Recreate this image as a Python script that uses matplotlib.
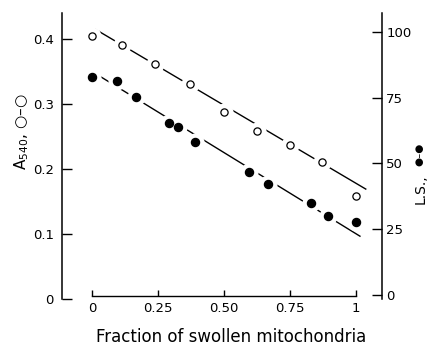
import matplotlib
matplotlib.use("Agg")
import matplotlib.pyplot as plt
import numpy as np

# Open circles: absorbance A540 (left axis)
frac_open = [0.0, 0.115, 0.24, 0.37, 0.50, 0.625, 0.75, 0.87, 1.0]
a540 = [0.405, 0.391, 0.362, 0.330, 0.288, 0.259, 0.237, 0.210, 0.158]
# Filled circles: light scattering L.S. (right axis)
frac_filled = [0.0, 0.095, 0.165, 0.292, 0.326, 0.392, 0.595, 0.666, 0.83, 0.895, 1.0]
ls_vals = [82.8, 81.5, 75.4, 65.5, 63.8, 58.3, 46.9, 42.2, 35.1, 30.2, 27.6]
# Fitted straight lines (intercept, slope, x range)
fit_open = (0.418, -0.240)
fit_open_x = [0.011, 1.037]
fit_filled = (85.0, -61.7)
fit_filled_x = [0.011, 1.015]

xticks = [0, 0.25, 0.50, 0.75, 1]
xticklabels = ["0", "0.25", "0.50", "0.75", "1"]
yticks_left = [0, 0.1, 0.2, 0.3, 0.4]
yticklabels_left = ["0", "0.1", "0.2", "0.3", "0.4"]
yticks_right = [0, 25, 50, 75, 100]

W, H = 431, 347
fig = plt.figure(figsize=(W / 100, H / 100), dpi=100)
ax = fig.add_axes([62 / W, (H - 299) / H, (382 - 62) / W, (299 - 13) / H])
ax.set_xlim(-0.1136, 1.0985)
ax.set_ylim(0, 0.44)
ax2 = ax.twinx()
ax2.set_ylim(-1.5, 107.2)

lw = 1.0
halo = 12
# open series
xo = np.array(fit_open_x)
ax.plot(xo, fit_open[0] + fit_open[1] * xo, color="black", lw=lw, zorder=1)
ax.plot(frac_open, a540, linestyle="none", marker="o", ms=halo, mfc="white",
        mec="white", zorder=2)
ax.plot(frac_open, a540, linestyle="none", marker="o", ms=5.2, mfc="white",
        mec="black", mew=0.9, zorder=3)

# filled series
xf = np.array(fit_filled_x)
ax2.plot(xf, fit_filled[0] + fit_filled[1] * xf, color="black", lw=lw, zorder=1)
ax2.plot(frac_filled, ls_vals, linestyle="none", marker="o", ms=halo, mfc="white",
         mec="white", zorder=2)
ax2.plot(frac_filled, ls_vals, linestyle="none", marker="o", ms=5.8, mfc="black",
         mec="black", zorder=3)

# spines
for a in (ax, ax2):
    a.spines["top"].set_visible(False)
ax.spines["right"].set_visible(False)
ax2.spines["left"].set_visible(False)
ax2.spines["bottom"].set_visible(False)
ax.spines["left"].set_linewidth(1.1)
ax2.spines["right"].set_linewidth(1.1)
ax.spines["bottom"].set_linewidth(1.0)
ax.spines["bottom"].set_bounds(0, 1)
ax.spines["bottom"].set_position(("outward", -2))

ax.set_xticks(xticks)
ax.set_xticklabels(xticklabels)
ax.set_yticks(yticks_left)
ax.set_yticklabels(yticklabels_left)
ax2.set_yticks(yticks_right)
ax2.set_yticklabels([str(v) for v in yticks_right])

ax.tick_params(axis="x", direction="in", length=4, width=1.0, labelsize=9.5, pad=4)
ax.tick_params(axis="y", direction="in", length=7, width=1.0, labelsize=9.5, pad=6)
ax2.tick_params(axis="y", direction="in", length=7, width=1.0, labelsize=9.5, pad=3)

fig.text(231 / W, 1 - 337 / H, "Fraction of swollen mitochondria",
         ha="center", va="center", fontsize=12)
fig.text(22 / W, 1 - 132 / H, "A$_{540}$, \u25cb\u2013\u25cb", rotation=90,
         ha="center", va="center", fontsize=11)
fig.text(421 / W, 1 - 189 / H, "L.S.,", rotation=90,
         ha="center", va="center", fontsize=10)
fig.text(419 / W, 1 - 154 / H, "\u25cf\u2013\u25cf", rotation=90,
         ha="center", va="center", fontsize=7.5)

fig.savefig("out.png", dpi=100)
